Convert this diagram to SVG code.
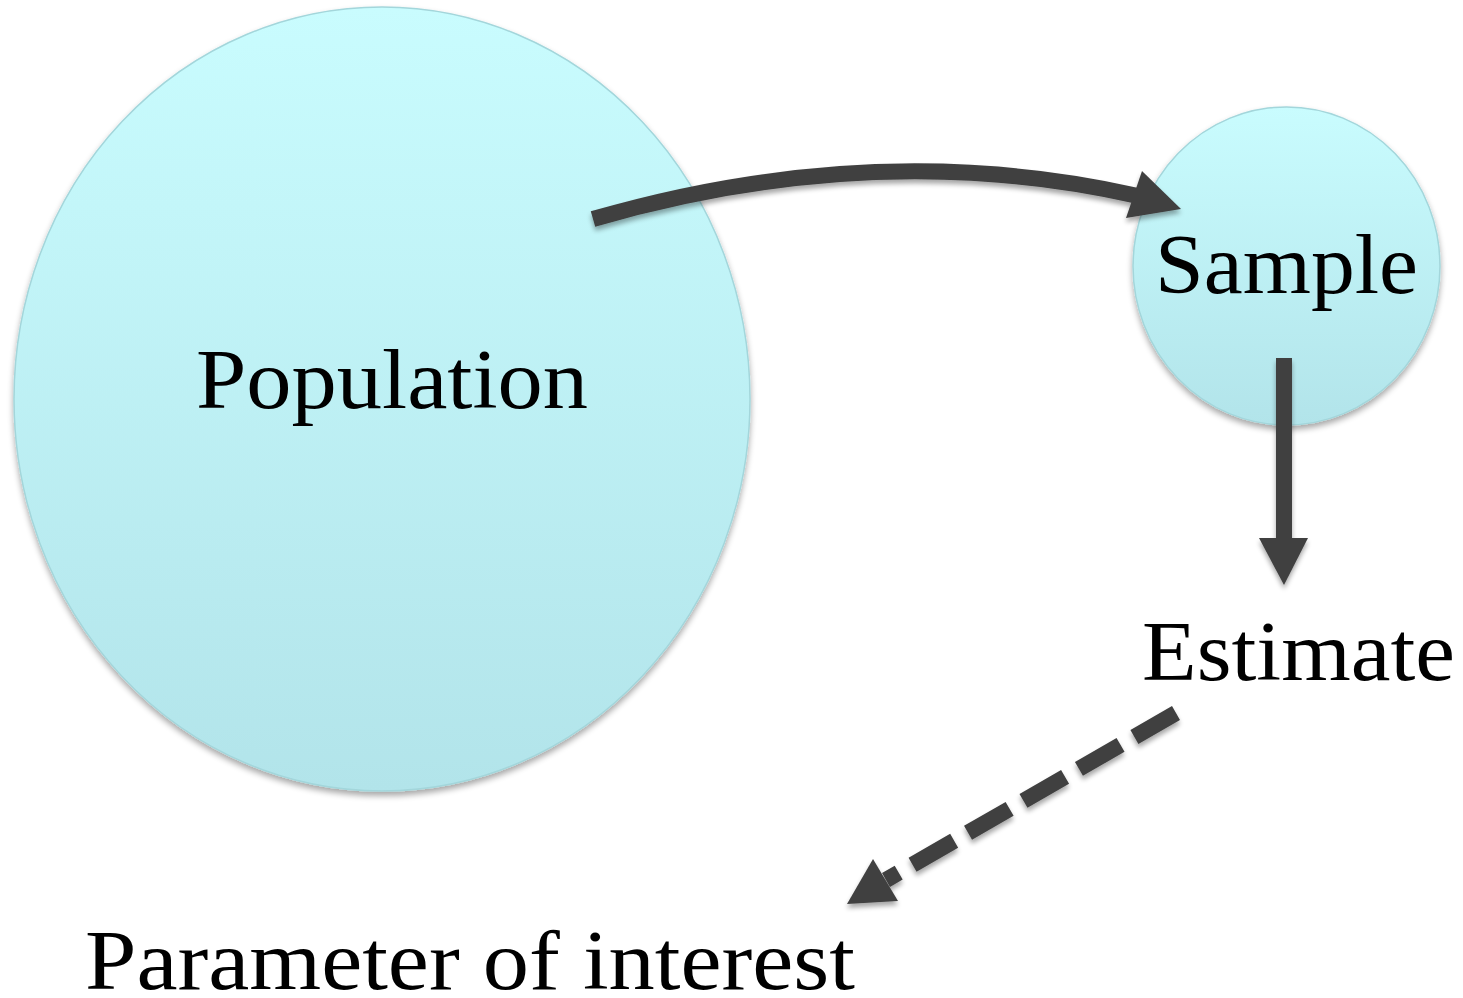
<svg xmlns="http://www.w3.org/2000/svg" width="1463" height="998" viewBox="0 0 1463 998">
<defs>
<linearGradient id="fillG" x1="0" y1="0" x2="0" y2="1">
<stop offset="0" stop-color="#c9fcfe"/>
<stop offset="1" stop-color="#b2e4ea"/>
</linearGradient>
<filter id="sh" x="-10%" y="-10%" width="120%" height="125%">
<feGaussianBlur in="SourceAlpha" stdDeviation="3"/>
<feOffset dx="0" dy="4" result="b"/>
<feComponentTransfer><feFuncA type="linear" slope="0.35"/></feComponentTransfer>
<feMerge><feMergeNode/><feMergeNode in="SourceGraphic"/></feMerge>
</filter>
<filter id="ash" x="-20%" y="-20%" width="140%" height="140%">
<feGaussianBlur in="SourceAlpha" stdDeviation="2.5"/>
<feOffset dx="0" dy="4"/>
<feComponentTransfer><feFuncA type="linear" slope="0.35"/></feComponentTransfer>
<feMerge><feMergeNode/><feMergeNode in="SourceGraphic"/></feMerge>
</filter>
</defs>
<style>
.node{fill:url(#fillG);stroke:#a3d6db;stroke-width:1.5;filter:url(#sh)}
.lbl{font-family:"Liberation Serif","Times New Roman",serif;font-size:84px;fill:#000}
.conn{stroke:#404040;stroke-width:16;fill:none}
.head{fill:#404040;stroke:none}
</style>
<g id="population">
<ellipse class="node" cx="382" cy="399" rx="368" ry="392"/>
<text class="lbl" x="196" y="408" textLength="392" lengthAdjust="spacingAndGlyphs">Population</text>
</g>
<g id="sample">
<ellipse class="node" cx="1286.5" cy="266" rx="153.5" ry="159"/>
<text class="lbl" x="1155" y="293" textLength="263" lengthAdjust="spacingAndGlyphs">Sample</text>
</g>
<g id="estimate">
<text class="lbl" x="1142" y="680" textLength="313" lengthAdjust="spacingAndGlyphs">Estimate</text>
</g>
<g id="parameter">
<text class="lbl" x="85" y="989" textLength="770" lengthAdjust="spacingAndGlyphs">Parameter of interest</text>
</g>
<g id="connectors" filter="url(#ash)">
<path class="conn" d="M 593 219 Q 876 137 1138 196"/>
<polygon class="head" points="1142,171 1181,209 1126,218"/>
<path class="conn" d="M 1284 358 L 1284 540"/>
<polygon class="head" points="1259,538 1308,538 1284,585"/>
<path class="conn" d="M 1176 713 L 886 880" stroke-dasharray="48 16"/>
<polygon class="head" points="873,859 898,901 847,904"/>
</g>
</svg>
